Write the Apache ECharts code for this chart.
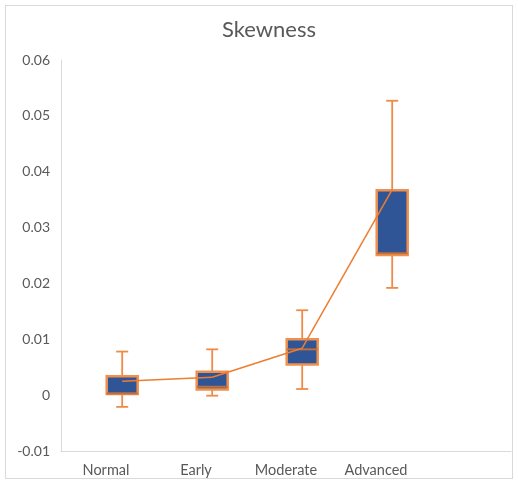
<!DOCTYPE html>
<html><head><meta charset="utf-8">
<script src="https://cdn.jsdelivr.net/npm/echarts@6/dist/echarts.min.js"></script>
<style>
html,body{margin:0;padding:0;background:#fff;}
#frame{position:absolute;left:5px;top:5px;width:508px;height:474px;border:1px solid #d9d9d9;box-sizing:border-box;}
#c{position:absolute;left:0;top:0;width:518px;height:486px;}
</style></head>
<body><div id="frame"></div><div id="c"></div>
<script>
const categories = ['Normal', 'Early', 'Moderate', 'Advanced', ''];
const mins    = [-0.0021, -0.0001, 0.0011, 0.0192];
const q1s     = [0.0002, 0.0010, 0.0055, 0.0251];
const medians = [0.0003, 0.0015, 0.0082, 0.0254];
const q3s     = [0.0034, 0.0042, 0.0100, 0.0367];
const maxs    = [0.0078, 0.0082, 0.0152, 0.0527];
const means   = [0.0025, 0.0032, 0.0084, 0.0368];
const yTicks  = [-0.01, 0, 0.01, 0.02, 0.03, 0.04, 0.05, 0.06];

const OFF = 0.18; // box offset as fraction of band width
const boxData = mins.map((m, i) => [i, m, q1s[i], medians[i], q3s[i], maxs[i]]);
const meanData = means.map((v, i) => [i, v]);

const chart = echarts.init(document.getElementById('c'));
const font = 'Lato, "Open Sans", sans-serif';
chart.setOption({
  animation: false,
  title: { text: 'Skewness', left: 217, top: 14,
    textStyle: { fontFamily: font, fontWeight: 'normal', fontSize: 22, color: '#595959' } },
  grid: { left: 61, right: 7, top: 60, bottom: 35 },
  xAxis: { type: 'category', data: categories,
    axisLine: { onZero: false, lineStyle: { color: '#d9d9d9' } }, axisTick: { show: false },
    axisLabel: { color: '#595959', fontFamily: font, fontSize: 14.5, margin: 12 },
    splitLine: { show: false } },
  yAxis: { type: 'value', min: yTicks[0], max: yTicks[yTicks.length - 1], interval: 0.01,
    axisLine: { show: true, lineStyle: { color: '#d9d9d9' } }, axisTick: { show: false },
    axisLabel: { color: '#595959', fontFamily: font, fontSize: 14, margin: 11 },
    splitLine: { show: false } },
  series: [
    { type: 'custom', data: boxData, z: 2,
      renderItem: function (params, api) {
        const i = api.value(0);
        const bw = api.size([1, 0])[0];
        const dx = bw * OFF;
        const w = 31;
        const pMin = api.coord([i, api.value(1)]);
        const pQ1 = api.coord([i, api.value(2)]);
        const pMed = api.coord([i, api.value(3)]);
        const pQ3 = api.coord([i, api.value(4)]);
        const pMax = api.coord([i, api.value(5)]);
        const x = pMin[0] + dx;
        const cap = 6;
        const ws = { stroke: '#F08B47', lineWidth: 1.8 };
        return { type: 'group', children: [
          { type: 'line', shape: { x1: x, y1: pMax[1], x2: x, y2: pMin[1] }, style: ws },
          { type: 'line', shape: { x1: x - cap, y1: pMax[1], x2: x + cap, y2: pMax[1] }, style: ws },
          { type: 'line', shape: { x1: x - cap, y1: pMin[1], x2: x + cap, y2: pMin[1] }, style: ws },
          { type: 'rect', shape: { x: x - w / 2, y: pQ3[1], width: w, height: pQ1[1] - pQ3[1] },
            style: { fill: '#2F5597', stroke: '#F0904F', lineWidth: 2.5 } },
          { type: 'line', shape: { x1: x - w / 2, y1: pMed[1], x2: x + w / 2, y2: pMed[1] },
            style: { stroke: '#C0703A', lineWidth: 2 } }
        ] };
      } },
    { type: 'custom', data: meanData, z: 3,
      renderItem: function (params, api) {
        const i = api.value(0);
        if (i === 0) return null;
        const dx = api.size([1, 0])[0] * OFF;
        const a = api.coord([i - 1, means[i - 1]]);
        const b = api.coord([i, api.value(1)]);
        return { type: 'line', shape: { x1: a[0] + dx, y1: a[1], x2: b[0] + dx, y2: b[1] },
          style: { stroke: '#ED7D31', lineWidth: 1.5 } };
      } }
  ]
});
</script></body></html>
